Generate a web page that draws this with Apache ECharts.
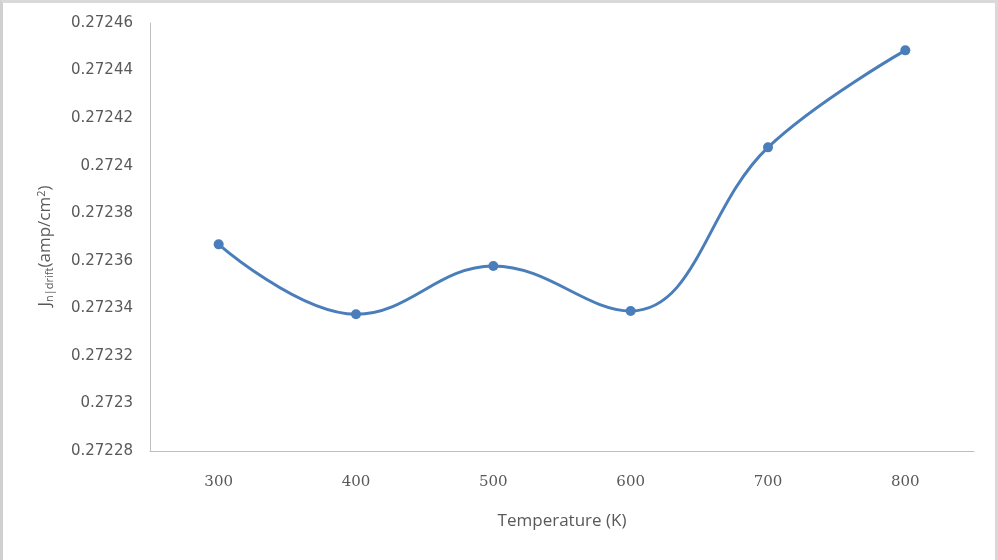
<!DOCTYPE html>
<html>
<head>
<meta charset="utf-8">
<script src="https://cdn.jsdelivr.net/npm/echarts@6/dist/echarts.min.js"></script>
<style>
  html, body { margin: 0; padding: 0; background: #fff; }
  #frame {
    width: 992px; height: 557px;
    border-top: 3px solid #d9d9d9;
    border-left: 3px solid #d0d0d0;
    border-right: 3px solid #d9d9d9;
    border-bottom: 0;
    position: relative;
  }
  #chart { width: 998px; height: 560px; position: absolute; left: -3px; top: -3px; }
</style>
</head>
<body>
<div id="frame"><div id="chart"></div></div>
<script>
// temperature (K) on the x axis
const temperatures = ['300', '400', '500', '600', '700', '800'];
// drift current density
const driftValues = [0.2723669, 0.2723375, 0.2723578, 0.2723389, 0.2724077, 0.2724485];

const chart = echarts.init(document.getElementById('chart'));

const sans = 'DejaVu Sans, Noto Sans, sans-serif';

const option = {
  animation: false,
  grid: { left: 150, right: 24, top: 23, bottom: 109 },
  xAxis: {
    type: 'category',
    data: temperatures,
    boundaryGap: true,
    axisLine: { lineStyle: { color: '#bfbfbf', width: 1 } },
    axisTick: { show: false },
    axisLabel: {
      color: '#595959',
      fontFamily: 'DejaVu Serif, Liberation Serif, serif',
      fontSize: 15,
      margin: 24
    },
    name: 'Temperature (K)',
    nameLocation: 'middle',
    nameGap: 62,
    nameTextStyle: { color: '#595959', fontFamily: 'Open Sans, Noto Sans, sans-serif', fontSize: 17 }
  },
  yAxis: {
    type: 'value',
    min: 0.27228,
    max: 0.27246,
    interval: 0.00002,
    axisLine: { show: true, lineStyle: { color: '#bfbfbf', width: 1 } },
    axisTick: { show: false },
    splitLine: { show: false },
    axisLabel: {
      color: '#595959',
      fontFamily: sans,
      fontSize: 15,
      margin: 17,
      formatter: v => String(parseFloat(v.toFixed(5)))
    },
    name: '{j|J}{sub|n|drift}{j|(amp/cm}{sup|2}{j|)}',
    nameLocation: 'middle',
    nameGap: 95,
    nameTextStyle: {
      padding: [0, 18, 0, 0],
      rich: {
        j: { color: '#595959', fontFamily: 'Open Sans, Noto Sans, sans-serif', fontSize: 17 },
        sub: { color: '#595959', fontFamily: 'Open Sans, Noto Sans, sans-serif', fontSize: 11, padding: [8, 0, 0, 0] },
        sup: { color: '#595959', fontFamily: 'Open Sans, Noto Sans, sans-serif', fontSize: 11, padding: [0, 0, 8, 0] }
      }
    }
  },
  series: [{
    type: 'line',
    data: driftValues,
    smooth: 0.4,
    symbol: 'circle',
    symbolSize: 10,
    lineStyle: { color: '#4a7ebb', width: 3 },
    itemStyle: { color: '#4a7ebb' }
  }]
};

chart.setOption(option);
</script>
</body>
</html>
